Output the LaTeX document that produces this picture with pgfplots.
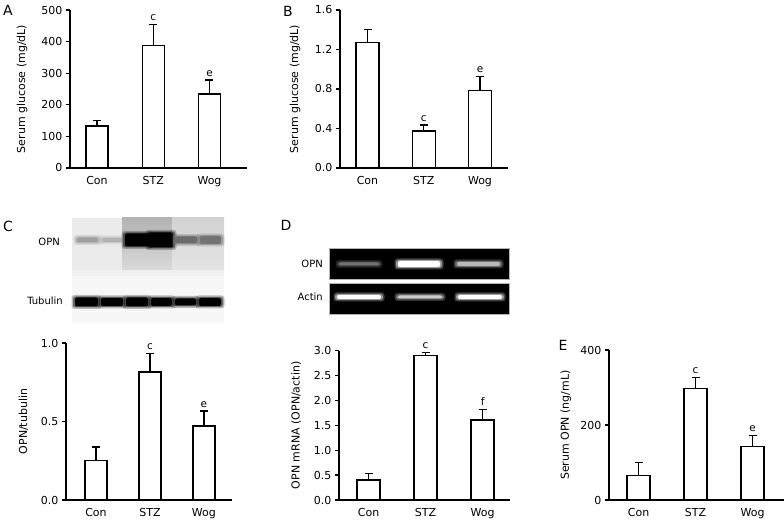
\documentclass[border=0pt]{standalone}
\usepackage{fontspec}
\setmainfont{DejaVu Sans}
\usepackage{pgfplots}
\pgfplotsset{compat=1.18}

\pgfplotsset{
  panel/.style={
    scale only axis,
    axis lines*=left,
    axis line style={line width=1.3pt},
    ymin=0,
    xtick={0,1,2},
    xticklabels={Con,STZ,Wog},
    xtick style={draw=none},
    ytick style={line width=1.3pt, black},
    tick align=outside,
    major tick length=4pt,
    tick label style={font=\fontsize{11}{13}\selectfont},
    label style={font=\fontsize{11}{13}\selectfont},
    /pgf/number format/assume math mode=true,
    xticklabel style={yshift=-1pt},
    clip=false,
  },
  barstyle/.style={ybar, draw=black, fill=white, line width=1.3pt, bar width=#1,
     error bars/.cd, y dir=plus, y explicit,
     error bar style={line width=1.3pt, black},
     error mark options={rotate=90, line width=1.3pt, mark size=4pt, black}},
  letters/.style={draw=none, mark=none, nodes near coords, point meta=explicit symbolic,
     every node near coord/.style={font=\fontsize{10.5}{12}\selectfont, anchor=south, inner sep=0pt, yshift=3.5pt}},
  onedec/.style={yticklabel style={/pgf/number format/.cd, fixed, fixed zerofill, precision=1}},
}

% blurred band: x1 x2 yc halfheight colour
\newcommand{\band}[5]{%
  \fill[#5, opacity=0.25, rounded corners=3pt] (#1pt-2.5pt, #3pt-#4pt-2.5pt) rectangle (#2pt+2.5pt, #3pt+#4pt+2.5pt);
  \fill[#5, opacity=0.45, rounded corners=2.5pt] (#1pt-1pt, #3pt-#4pt-1pt) rectangle (#2pt+1pt, #3pt+#4pt+1pt);
  \fill[#5, rounded corners=2pt] (#1pt+1pt, #3pt-#4pt) rectangle (#2pt-1pt, #3pt+#4pt);
}

\begin{document}
\begin{tikzpicture}
\path[use as bounding box] (0pt,0pt) rectangle (784pt,522pt);

% ---------- panel letters ----------
\node[font=\fontsize{14}{16}\selectfont] at (8pt,512pt) {A};
\node[font=\fontsize{14}{16}\selectfont] at (288pt,511pt) {B};
\node[font=\fontsize{14}{16}\selectfont] at (8pt,296pt) {C};
\node[font=\fontsize{14}{16}\selectfont] at (286pt,297pt) {D};
\node[font=\fontsize{14}{16}\selectfont] at (563pt,177pt) {E};

% ---------- panel A ----------
\begin{axis}[panel, at={(70pt,354pt)}, anchor=south west, width=177pt, height=158pt,
  xmin=-0.48, xmax=2.667, ymax=500, ytick={0,100,200,300,400,500},
  ylabel={Serum glucose (mg/dL)},
  ylabel style={at={(axis description cs:-0.271,0.5)}, anchor=center}]
\addplot[barstyle=22pt] coordinates {(0,133) +- (0,17) (1,387) +- (0,68) (2,234) +- (0,44)};
\addplot[letters] coordinates {(1,455)[c] (2,278)[e]};
\end{axis}

% ---------- panel B ----------
\begin{axis}[panel, onedec, at={(340pt,354pt)}, anchor=south west, width=168pt, height=158pt,
  xmin=-0.489, xmax=2.498, ymax=1.6, ytick={0,0.4,0.8,1.2,1.6},
  ylabel={Serum glucose (mg/dL)},
  ylabel style={at={(axis description cs:-0.268,0.5)}, anchor=center}]
\addplot[barstyle=23pt] coordinates {(0,1.273) +- (0,0.13) (1,0.375) +- (0,0.06) (2,0.787) +- (0,0.143)};
\addplot[letters] coordinates {(1,0.435)[c] (2,0.93)[e]};
\end{axis}

% ---------- panel C blot ----------
\fill[gray!6] (72pt,199pt) rectangle (224pt,250pt);
\fill[gray!16] (72pt,250pt) rectangle (122pt,304pt);
\shade[top color=gray!60, bottom color=gray!28] (122pt,250pt) rectangle (172pt,304pt);
\shade[top color=gray!35, bottom color=gray!20] (172pt,250pt) rectangle (224pt,304pt);
\fill[gray!12] (72pt,246pt) rectangle (224pt,252pt);
\band{76}{99}{282}{2.5}{gray!75}
\band{101}{123}{282}{2}{gray!60}
\band{124}{150}{282}{6.5}{black}
\band{148}{174}{282}{7.5}{black}
\band{174}{198}{282}{3.5}{gray!85!black}
\band{199}{222}{282}{4}{gray!90!black}
\band{74}{99}{220}{4.5}{black}
\band{100}{124}{220}{4}{black}
\band{125}{149}{220}{4.5}{black}
\band{150}{173}{220}{4}{black}
\band{174}{197}{220}{3.5}{black}
\band{198}{222}{220}{4}{black}
\node[font=\fontsize{10}{12}\selectfont, anchor=east, inner sep=0pt] at (60pt,280pt) {OPN};
\node[font=\fontsize{10}{12}\selectfont, anchor=east, inner sep=0pt] at (63pt,221pt) {Tubulin};

% ---------- panel C ----------
\begin{axis}[panel, onedec, at={(66pt,22pt)}, anchor=south west, width=166pt, height=157pt,
  xmin=-0.556, xmax=2.52, ymax=1, ytick={0,0.5,1},
  ylabel={OPN/tubulin},
  ylabel style={at={(axis description cs:-0.256,0.5)}, anchor=center}]
\addplot[barstyle=22pt] coordinates {(0,0.25) +- (0,0.088) (1,0.815) +- (0,0.117) (2,0.471) +- (0,0.096)};
\addplot[letters] coordinates {(1,0.932)[c] (2,0.567)[e]};
\end{axis}

% ---------- panel D gel ----------
\fill[black, draw=gray!60, line width=0.5pt] (329pt,243pt) rectangle (509pt,274pt);
\fill[black, draw=gray!60, line width=0.5pt] (329pt,208pt) rectangle (509pt,239pt);
\band{338}{380}{258}{1.5}{white!45!black}
\band{397}{441}{258}{3}{white}
\band{456}{501}{258}{2}{white!72!black}
\band{336}{382}{225}{2}{white}
\band{397}{443}{225}{1.5}{white!80!black}
\band{457}{503}{225}{2}{white}
\node[font=\fontsize{10}{12}\selectfont, anchor=east, inner sep=0pt] at (323pt,258pt) {OPN};
\node[font=\fontsize{10}{12}\selectfont, anchor=east, inner sep=0pt] at (323pt,225pt) {Actin};

% ---------- panel D ----------
\begin{axis}[panel, onedec, at={(339pt,22pt)}, anchor=south west, width=171pt, height=149.3pt,
  xmin=-0.518, xmax=2.48, ymax=3, ytick={0,0.5,1,1.5,2,2.5,3},
  ylabel={OPN mRNA (OPN/actin)},
  ylabel style={at={(axis description cs:-0.25,0.5)}, anchor=center}]
\addplot[barstyle=23pt] coordinates {(0,0.40) +- (0,0.135) (1,2.91) +- (0,0.06) (2,1.61) +- (0,0.21)};
\addplot[letters] coordinates {(1,2.97)[c] (2,1.82)[f]};
\end{axis}

% ---------- panel E ----------
\begin{axis}[panel, at={(609pt,22pt)}, anchor=south west, width=175pt, height=150pt,
  xmin=-0.518, xmax=2.55, ymax=400, ytick={0,200,400},
  ylabel={Serum OPN (ng/mL)},
  ylabel style={at={(axis description cs:-0.246,0.5)}, anchor=center}]
\addplot[barstyle=23pt] coordinates {(0,65) +- (0,35) (1,297) +- (0,29) (2,143) +- (0,29)};
\addplot[letters] coordinates {(1,326)[c] (2,172)[e]};
\end{axis}
\end{tikzpicture}
\end{document}
